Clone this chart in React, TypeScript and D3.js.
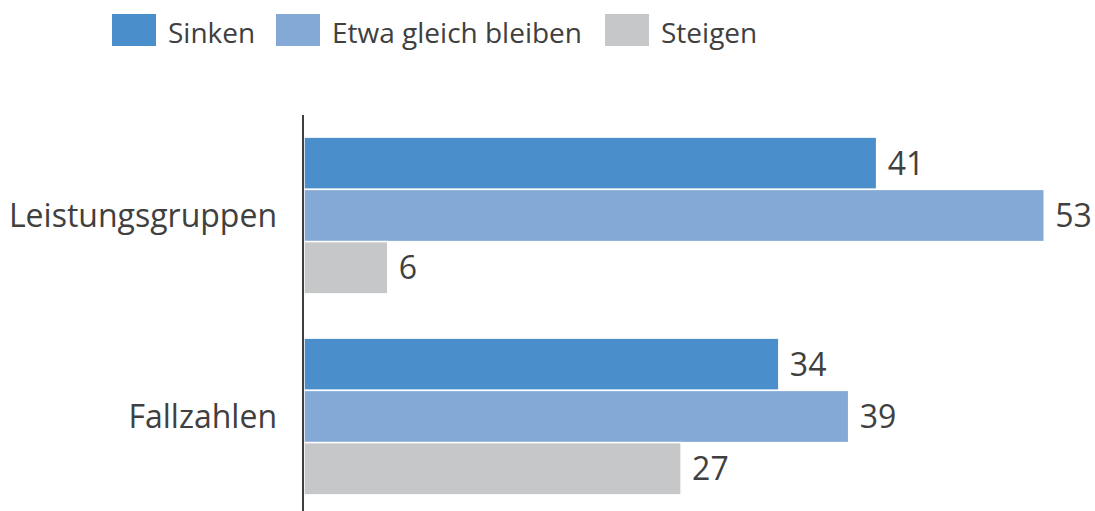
import React from "react";
import * as d3 from "d3";

const categories = ["Leistungsgruppen", "Fallzahlen"];
const seriesNames = ["Sinken", "Etwa gleich bleiben", "Steigen"];
const sinken = [41, 34];
const etwaGleich = [53, 39];
const steigen = [6, 27];
const colors = ["#4A8FCB", "#84A9D6", "#C6C7C9"];

const W = 1095;
const H = 511;
const FONT = "'Open Sans', 'Noto Sans', sans-serif";
const TEXT = "#404040";

export default function App() {
  const series = [sinken, etwaGleich, steigen];
  const y = d3.scaleBand<string>().domain(categories).range([115, 517]).paddingInner(0.22).paddingOuter(0.11);
  const ySub = d3.scaleBand<string>().domain(seriesNames).range([0, y.bandwidth()]).padding(0);
  const x = d3.scaleLinear().domain([0, 60]).range([304, 304 + 838]);

  const legendX = [112, 276, 605];

  return (
    <svg width={W} height={H} style={{ position: "absolute", left: 0, top: 0 }}>
      <rect width={W} height={H} fill="#fff" />
      {seriesNames.map((s, i) => (
        <g key={s} transform={`translate(${legendX[i]},14)`}>
          <rect width={44} height={32} fill={colors[i]} />
          <text x={56} y={29} fontFamily={FONT} fontSize={28} fill={TEXT}>
            {s}
          </text>
        </g>
      ))}
      {categories.map((c, ci) => (
        <g key={c}>
          <text
            x={277}
            y={(y(c) as number) + y.bandwidth() / 2}
            dy="0.35em"
            textAnchor="end"
            fontFamily={FONT}
            fontSize={32}
            fill={TEXT}
          >
            {c}
          </text>
          {seriesNames.map((s, si) => {
            const v = series[si][ci];
            const yy = (y(c) as number) + (ySub(s) as number);
            const h = ySub.bandwidth();
            return (
              <g key={s}>
                <rect
                  x={x(0)}
                  y={yy}
                  width={x(v) - x(0)}
                  height={h}
                  fill={colors[si]}
                  stroke="#fff"
                  strokeWidth={1.5}
                />
                <text
                  x={x(v) + 11}
                  y={yy + h / 2}
                  dy="0.36em"
                  fontFamily={FONT}
                  fontSize={32}
                  fill={TEXT}
                >
                  {v}
                </text>
              </g>
            );
          })}
        </g>
      ))}
      <line x1={303} x2={303} y1={115} y2={511} stroke="#404040" strokeWidth={2} />
    </svg>
  );
}
